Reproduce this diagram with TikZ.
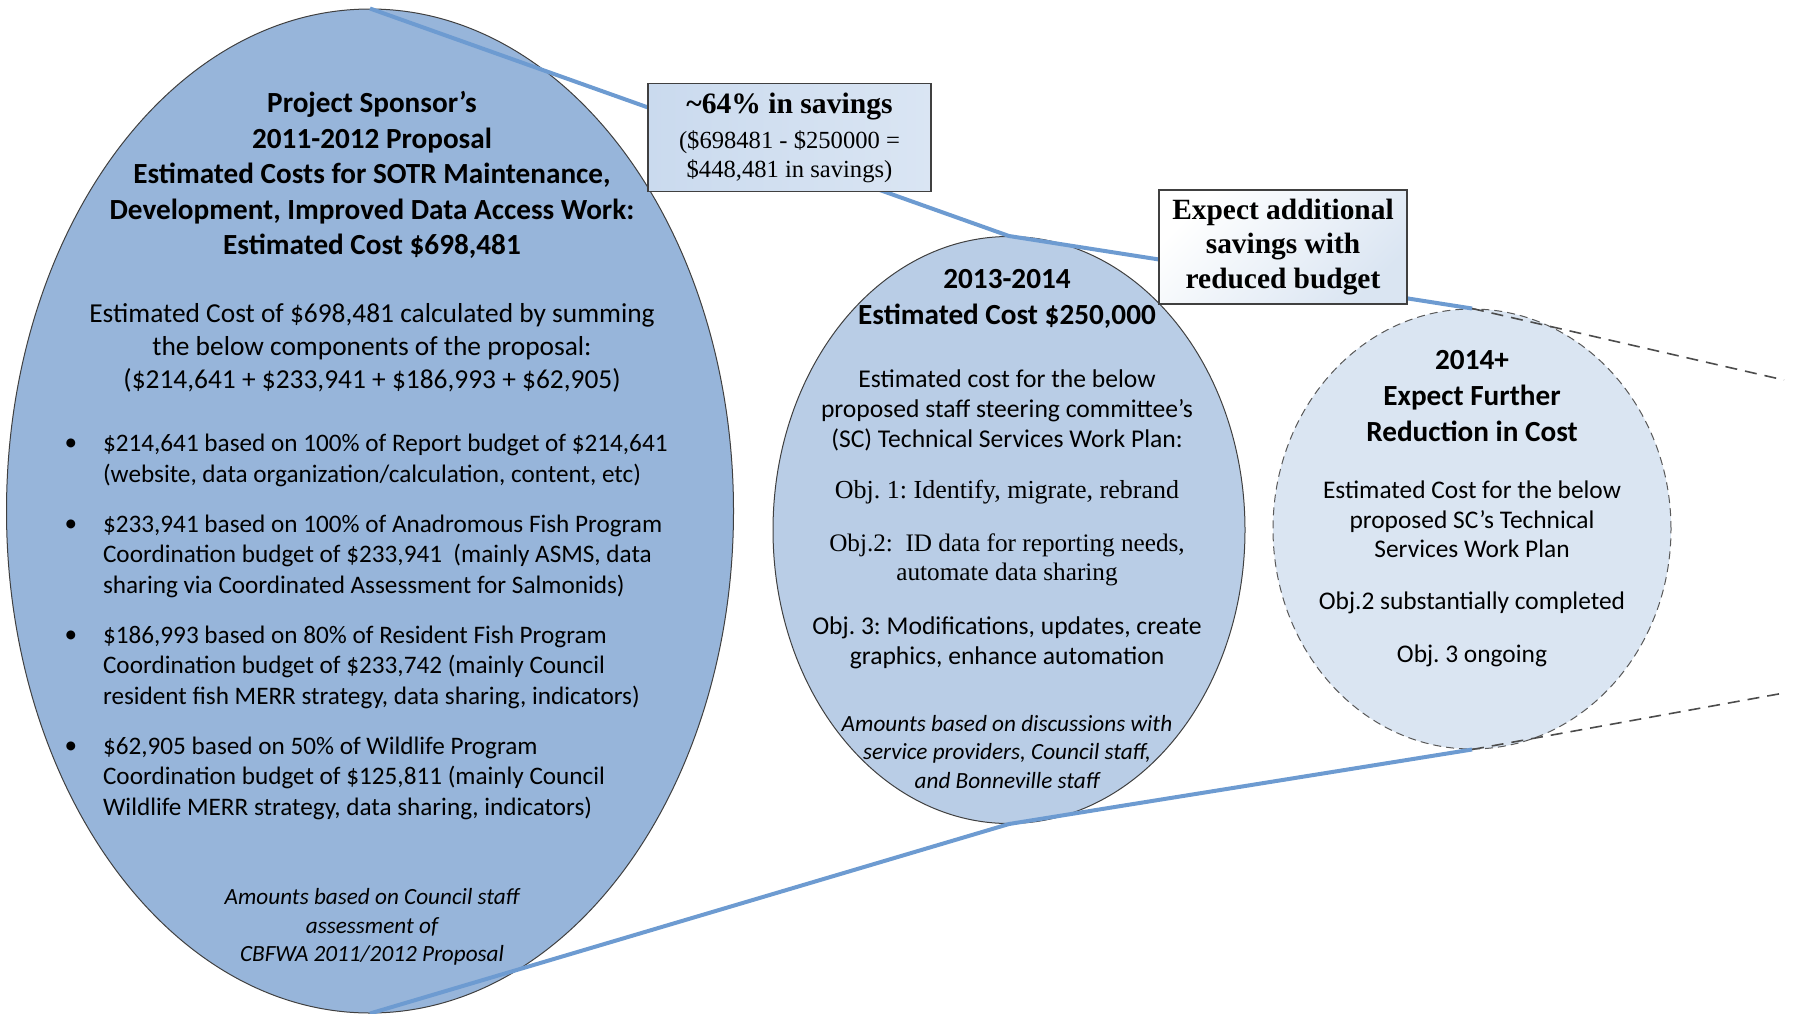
\documentclass[tikz,border=0pt]{standalone}
\usepackage{fontspec}
\setmainfont{Carlito}
\newfontfamily\timesfont{Liberation Serif}
\usetikzlibrary{shapes.geometric,positioning}
\definecolor{bigblue}{HTML}{97B5DA}
\definecolor{midblue}{HTML}{B9CDE6}
\definecolor{paleblue}{HTML}{DAE5F2}
\definecolor{linkblue}{HTML}{6D9BD1}
\definecolor{rimgray}{HTML}{404040}
\definecolor{boxblue}{HTML}{CADAEE}
\frenchspacing

\begin{document}
\begin{tikzpicture}[x=0.5pt,y=-0.5pt,
  oval/.style={ellipse,draw=rimgray,line width=0.5pt,inner sep=0pt},
  link/.style={draw=linkblue,line width=2pt},
  trail/.style={draw=gray!60!black,dashed,line width=0.8pt,dash pattern=on 6pt off 4pt},
  savebox/.style={draw=rimgray,line width=0.6pt,align=center,inner sep=0pt},
  head/.style={align=center,font=\bfseries\fontsize{14.6}{17.8}\selectfont},
  body/.style={align=center,font=\fontsize{12.8}{15}\selectfont},
  point/.style={align=left,anchor=west,font=\fontsize{12.6}{15.25}\selectfont},
  note/.style={align=center,font=\itshape\fontsize{11.6}{14.3}\selectfont}]
\useasboundingbox (0,0) rectangle (1794,1013);

% the three cost periods
\node[oval,fill=bigblue,minimum width=363.5pt,minimum height=502pt] (sponsor) at (370,511) {};
\node[oval,fill=midblue,minimum width=236pt,minimum height=293.5pt] (plan) at (1009,530) {};
\node[oval,fill=paleblue,draw=gray!70!black,dashed,dash pattern=on 4pt off 2.5pt,minimum width=199pt,minimum height=220pt] (future) at (1472,529) {};

% funnel lines
\coordinate (tailtop) at (1784,380);
\coordinate (tailbot) at (1784,693);
\draw[link] (sponsor.north) -- (plan.north) -- (future.north);
\draw[link] (sponsor.south) -- (plan.south) -- (future.south);
\draw[trail] (future.north) -- (tailtop);
\draw[trail] (future.south) -- (tailbot);

% savings boxes
\node[savebox,left color=boxblue,right color=boxblue!70!white,minimum width=141.5pt,minimum height=54pt,
  font=\timesfont\fontsize{12.3}{14.3}\selectfont] (cut) at (789.5,137.5)
  {{\bfseries\fontsize{14.8}{17}\selectfont \textasciitilde64\% in savings}\\[3.3pt]
   (\$698481 - \$250000 =\\
   \$448,481 in savings)};
\node[savebox,bottom color=paleblue,top color=white,shading angle=45,minimum width=124pt,minimum height=57pt,
  font=\timesfont\bfseries\fontsize{14.7}{17.25}\selectfont] (more) at (1283,247)
  {Expect additional\\ savings with\\ reduced budget};

% 2011-2012 proposal
\node[head] (sptitle) at (372,175) {Project Sponsor’s\\ 2011-2012 Proposal\\ Estimated Costs for SOTR Maintenance,\\ Development, Improved Data Access Work:\\ Estimated Cost \$698,481};
\node[align=center,font=\fontsize{13.7}{16.6}\selectfont] (spsum) at (372,348) {Estimated Cost of \$698,481 calculated by summing\\ the below components of the proposal:\\ (\$214,641 + \$233,941 + \$186,993 + \$62,905)};
\node[point] (b1) at (96,460.5) {\$214,641 based on 100\% of Report budget of \$214,641\\ (website, data organization/calculation, content, etc)};
\node[point] (b2) at (96,556) {\$233,941 based on 100\% of Anadromous Fish Program\\ Coordination budget of \$233,941\ \ (mainly ASMS, data\\ sharing via Coordinated Assessment for Salmonids)};
\node[point] (b3) at (96,667) {\$186,993 based on 80\% of Resident Fish Program\\ Coordination budget of \$233,742 (mainly Council\\ resident fish MERR strategy, data sharing, indicators)};
\node[point] (b4) at (96,778) {\$62,905 based on 50\% of Wildlife Program\\ Coordination budget of \$125,811 (mainly Council\\ Wildlife MERR strategy, data sharing, indicators)};
\foreach \b/\y in {b1/445,b2/526,b3/637,b4/748}
  \node[font=\fontsize{12.6}{15}\selectfont] at (71,\y) {\textbullet};
\node[note] (spnote) at (372,927) {Amounts based on Council staff\\ assessment of\\ CBFWA 2011/2012 Proposal};

% 2013-2014
\node[head] (pltitle) at (1007,299) {2013-2014\\ Estimated Cost \$250,000};
\node[body] (plbody) at (1007,410) {Estimated cost for the below\\ proposed staff steering committee’s\\ (SC) Technical Services Work Plan:};
\node[font=\timesfont\fontsize{13}{14.5}\selectfont] (obj1) at (1007,492) {Obj. 1: Identify, migrate, rebrand};
\node[align=center,font=\timesfont\fontsize{12.6}{14.5}\selectfont] (obj2) at (1007,559.5) {Obj.2:\ \ ID data for reporting needs,\\ automate data sharing};
\node[body] (obj3) at (1007,643) {Obj. 3: Modifications, updates, create\\ graphics, enhance automation};
\node[note] (plnote) at (1007,752) {Amounts based on discussions with\\ service providers, Council staff,\\ and Bonneville staff};

% 2014+
\node[head] (futitle) at (1472,396) {2014+\\ Expect Further\\ Reduction in Cost};
\node[align=center,font=\fontsize{12.7}{14.75}\selectfont] (fubody) at (1472,519.5) {Estimated Cost for the below\\ proposed SC’s Technical\\ Services Work Plan};
\node[font=\fontsize{12.7}{15}\selectfont] (fuobj2) at (1472,603) {Obj.2 substantially completed};
\node[font=\fontsize{12.7}{15}\selectfont] (fuobj3) at (1472,656) {Obj. 3 ongoing};
\end{tikzpicture}
\end{document}
